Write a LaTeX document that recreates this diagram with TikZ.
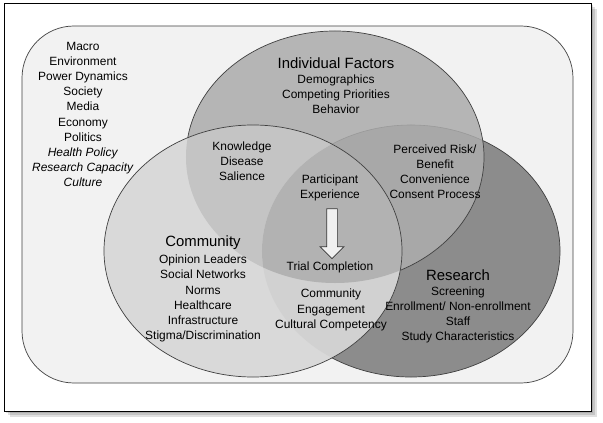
\documentclass[tikz,border=0pt]{standalone}
\usepackage{fontspec}
\setmainfont{Liberation Sans}
\usetikzlibrary{shapes.arrows}

\definecolor{boxfill}{gray}{0.95}
\definecolor{indfill}{gray}{0.71}
\definecolor{comfill}{gray}{0.85}
\definecolor{resfill}{gray}{0.55}
\definecolor{comind}{gray}{0.77}
\definecolor{indres}{gray}{0.66}
\definecolor{comres}{gray}{0.82}
\definecolor{allthree}{gray}{0.70}

\begin{document}
\begin{tikzpicture}[x=0.03cm, y=-0.03cm,
    txt/.style={align=center, font=\fontsize{10.2}{12.9}\selectfont, inner sep=0pt},
    head/.style={font=\fontsize{12.7}{15}\selectfont, inner sep=0pt},
    rim/.style={draw=black!75, line width=0.6pt},
    blob/.style={x radius=4.47cm, y radius=3.78cm}]
  \useasboundingbox (0,0) rectangle (603,423);

  % frame with its shadow
  \foreach \d in {2,4,6}
    \fill[black, opacity=0.12] (4+\d,3+\d) rectangle (591+\d,411+\d);
  \draw[fill=white, line width=0.8pt] (4,3) rectangle (591,411);

  % outer box
  \draw[rim, fill=boxfill, rounded corners=1.56cm] (22,26) rectangle (573,383);

  \coordinate (ind) at (335,157);
  \coordinate (com) at (253,251);
  \coordinate (res) at (411,251);

  % Research
  \fill[resfill] (res) ellipse [blob];
  \draw[rim] (res) ellipse [blob];

  % Individual Factors
  \fill[indfill] (ind) ellipse [blob];
  \begin{scope}
    \clip (ind) ellipse [blob];
    \fill[indres] (res) ellipse [blob];
    \draw[gray!80, line width=0.5pt] (res) ellipse [blob];
  \end{scope}
  \draw[rim] (ind) ellipse [blob];

  % Community
  \fill[comfill] (com) ellipse [blob];
  \begin{scope}
    \clip (com) ellipse [blob];
    \fill[comind] (ind) ellipse [blob];
    \fill[comres] (res) ellipse [blob];
    \clip (ind) ellipse [blob];
    \fill[allthree] (res) ellipse [blob];
  \end{scope}
  \draw[rim] (com) ellipse [blob];

  % texts
  \node[txt] (macro) at (83,114.5) {Macro\\Environment\\Power Dynamics\\Society\\Media\\Economy\\Politics\\
    \textit{Health Policy}\\\textit{Research Capacity}\\\textit{Culture}};

  \node[head] (indtitle) at (336,63) {Individual Factors};
  \node[txt] (inditems) at (336,94) {Demographics\\Competing Priorities\\Behavior};

  \node[txt] (knowledge) at (242,161) {Knowledge\\Disease\\Salience};
  \node[txt] (risk) at (435,172) {Perceived Risk/\\Benefit\\Convenience\\Consent Process};

  \node[txt] (experience) at (330,187.5) {Participant\\Experience};
  \node[single arrow, shape border rotate=270, draw=black!80, fill=gray!12, line width=0.6pt,
    inner sep=0.15cm, minimum height=1.5cm, single arrow head extend=0.2cm] (flow) at (332,231) {};
  \node[txt] (completion) at (330,267) {Trial Completion};

  \node[txt] (engagement) at (331,310) {Community\\Engagement\\Cultural Competency};

  \node[head] (comtitle) at (203,243) {Community};
  \node[txt] (comitems) at (203,298.5) {Opinion Leaders\\Social Networks\\Norms\\Healthcare\\Infrastructure\\Stigma/Discrimination};

  \node[head] (restitle) at (458,275) {Research};
  \node[txt] (resitems) at (458,315) {Screening\\Enrollment/ Non-enrollment\\Staff\\Study Characteristics};
\end{tikzpicture}
\end{document}
